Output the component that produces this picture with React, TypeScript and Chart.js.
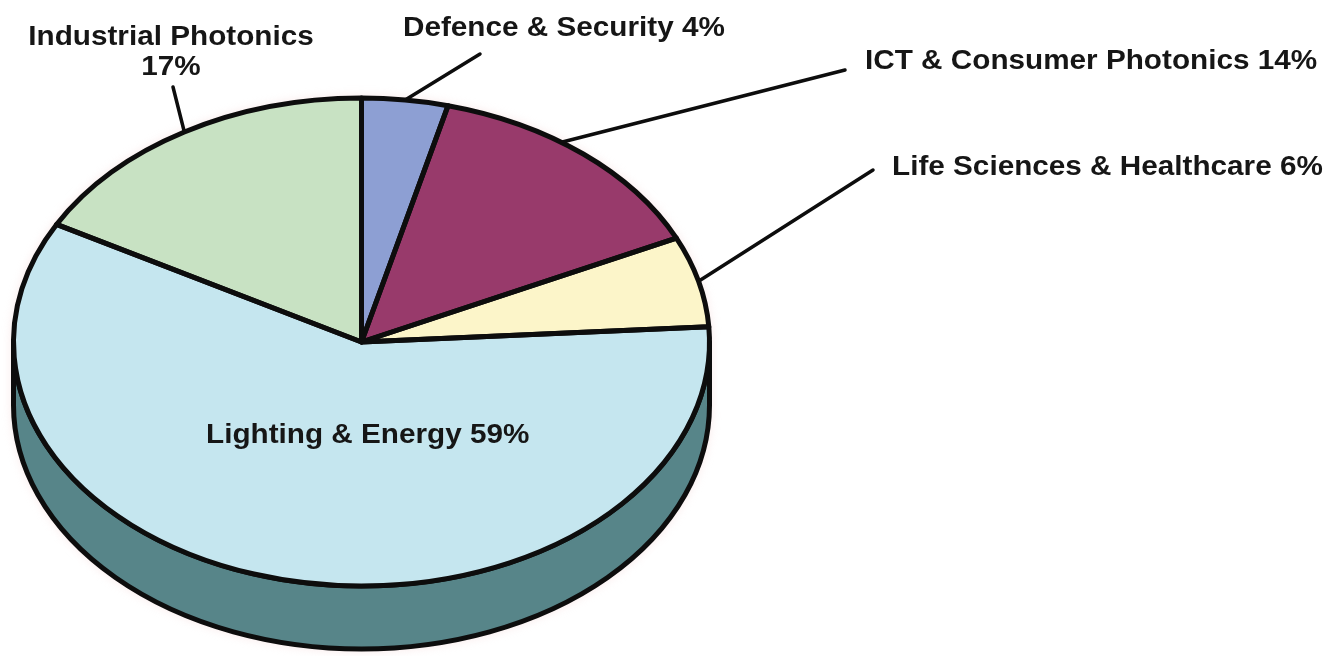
import React, { useEffect, useRef } from "react";
import { Chart, registerables } from "chart.js";

Chart.register(...registerables);

// ---- data ----
const categories = [
  "Defence & Security",
  "ICT & Consumer Photonics",
  "Life Sciences & Healthcare",
  "Lighting & Energy",
  "Industrial Photonics",
];
const shares = [4, 14, 6, 59, 17];

// ---- styles ----
const topColors = ["#8d9fd3", "#983a6b", "#fcf5c9", "#c5e6ef", "#c8e2c3"];
const sideColors = ["#5d6b94", "#6a2a4b", "#b0ab8c", "#578589", "#8a9e88"];

// ---- label layout ----
const labelX = [403, 865, 892, 206, 171];
const labelBaseline = [36, 69, 175, 443, 45];
const labelAlign: CanvasTextAlign[] = ["left", "left", "left", "left", "center"];
const labelWrap = [false, false, false, false, true];
const leaderFrom: ([number, number] | null)[] = [[480, 54], [845, 70], [873, 170], null, [173, 87]];
const leaderFrac = [0.5, 0.41, 0.5, 0, 0.5];

const PIE_HALF_WIDTH = 348;
const DEPTH = 63;
const OUTLINE = 5;
const FONT = 'bold 27px "Liberation Sans", Arial, sans-serif';
const TEXT_STRETCH = 1.1;
const TEXT_COLOR = "#161616";

const pie3d = {
  id: "pie3d",
  beforeDatasetsDraw(chart: any) {
    const ctx = chart.ctx as CanvasRenderingContext2D;
    const arcs = chart.getDatasetMeta(0).data as any[];
    if (!arcs.length) return;
    const { x: cx, y: cy, outerRadius: ry } = arcs[0];
    const sx = PIE_HALF_WIDTH / ry;
    const rx = ry * sx;
    ctx.save();
    // soft halo
    ctx.beginPath();
    ctx.ellipse(cx, cy, rx + 3, ry + 3, 0, Math.PI, 2 * Math.PI);
    ctx.ellipse(cx, cy + DEPTH, rx + 3, ry + 3, 0, 0, Math.PI);
    ctx.closePath();
    ctx.fillStyle = "rgba(240,200,200,0.35)";
    ctx.filter = "blur(4px)";
    ctx.fill();
    ctx.filter = "none";
    ctx.lineWidth = OUTLINE;
    ctx.strokeStyle = "#0d0d0d";
    ctx.lineJoin = "round";
    arcs.forEach((a, i) => {
      const s = Math.max(a.startAngle, 0);
      const e = Math.min(a.endAngle, Math.PI);
      if (e <= s) return;
      ctx.beginPath();
      ctx.ellipse(cx, cy, rx, ry, 0, s, e);
      ctx.ellipse(cx, cy + DEPTH, rx, ry, 0, e, s, true);
      ctx.closePath();
      ctx.fillStyle = sideColors[i];
      ctx.fill();
      ctx.stroke();
    });
    ctx.restore();
    ctx.save();
    ctx.translate(cx, 0);
    ctx.scale(sx, 1);
    ctx.translate(-cx, 0);
  },
  afterDatasetsDraw(chart: any) {
    const ctx = chart.ctx as CanvasRenderingContext2D;
    const arcs = chart.getDatasetMeta(0).data as any[];
    if (!arcs.length) return;
    ctx.restore();
    const { x: cx, y: cy, outerRadius: ry } = arcs[0];
    const rx = PIE_HALF_WIDTH;
    ctx.save();
    ctx.lineWidth = OUTLINE;
    ctx.strokeStyle = "#0d0d0d";
    ctx.lineJoin = "round";
    arcs.forEach((a) => {
      ctx.beginPath();
      ctx.moveTo(cx, cy);
      ctx.ellipse(cx, cy, rx, ry, 0, a.startAngle, a.endAngle);
      ctx.closePath();
      ctx.stroke();
    });
    // leader lines
    ctx.lineWidth = 3.5;
    ctx.lineCap = "round";
    arcs.forEach((a, i) => {
      const from = leaderFrom[i];
      if (!from) return;
      const t = a.startAngle + (a.endAngle - a.startAngle) * leaderFrac[i];
      ctx.beginPath();
      ctx.moveTo(from[0], from[1]);
      ctx.lineTo(cx + rx * Math.cos(t), cy + ry * Math.sin(t));
      ctx.stroke();
    });
    // labels
    ctx.fillStyle = TEXT_COLOR;
    ctx.font = FONT;
    ctx.textBaseline = "alphabetic";
    categories.forEach((name, i) => {
      const lines = labelWrap[i] ? [name, `${shares[i]}%`] : [`${name} ${shares[i]}%`];
      lines.forEach((line, k) => {
        ctx.save();
        ctx.translate(labelX[i], labelBaseline[i] + k * 30);
        ctx.scale(TEXT_STRETCH, 1);
        ctx.textAlign = labelAlign[i];
        ctx.fillText(line, 0, 0);
        ctx.restore();
      });
    });
    ctx.restore();
  },
};

export default function App() {
  const ref = useRef<HTMLCanvasElement>(null);
  useEffect(() => {
    if (!ref.current) return;
    const chart = new Chart(ref.current, {
      type: "pie",
      data: {
        labels: categories,
        datasets: [
          {
            data: shares,
            backgroundColor: topColors,
            borderWidth: 0,
            clip: false,
          } as any,
        ],
      },
      options: {
        responsive: false,
        maintainAspectRatio: false,
        animation: false,
        devicePixelRatio: 1,
        layout: { padding: { left: 13, right: 633, top: 98, bottom: 70 } },
        plugins: { legend: { display: false }, tooltip: { enabled: false } },
        events: [],
      },
      plugins: [pie3d],
    });
    return () => chart.destroy();
  }, []);
  return (
    <div style={{ position: "fixed", left: 0, top: 0, width: 1343, height: 656, background: "#fff" }}>
      <canvas ref={ref} width={1343} height={656} style={{ width: 1343, height: 656, display: "block" }} />
    </div>
  );
}
